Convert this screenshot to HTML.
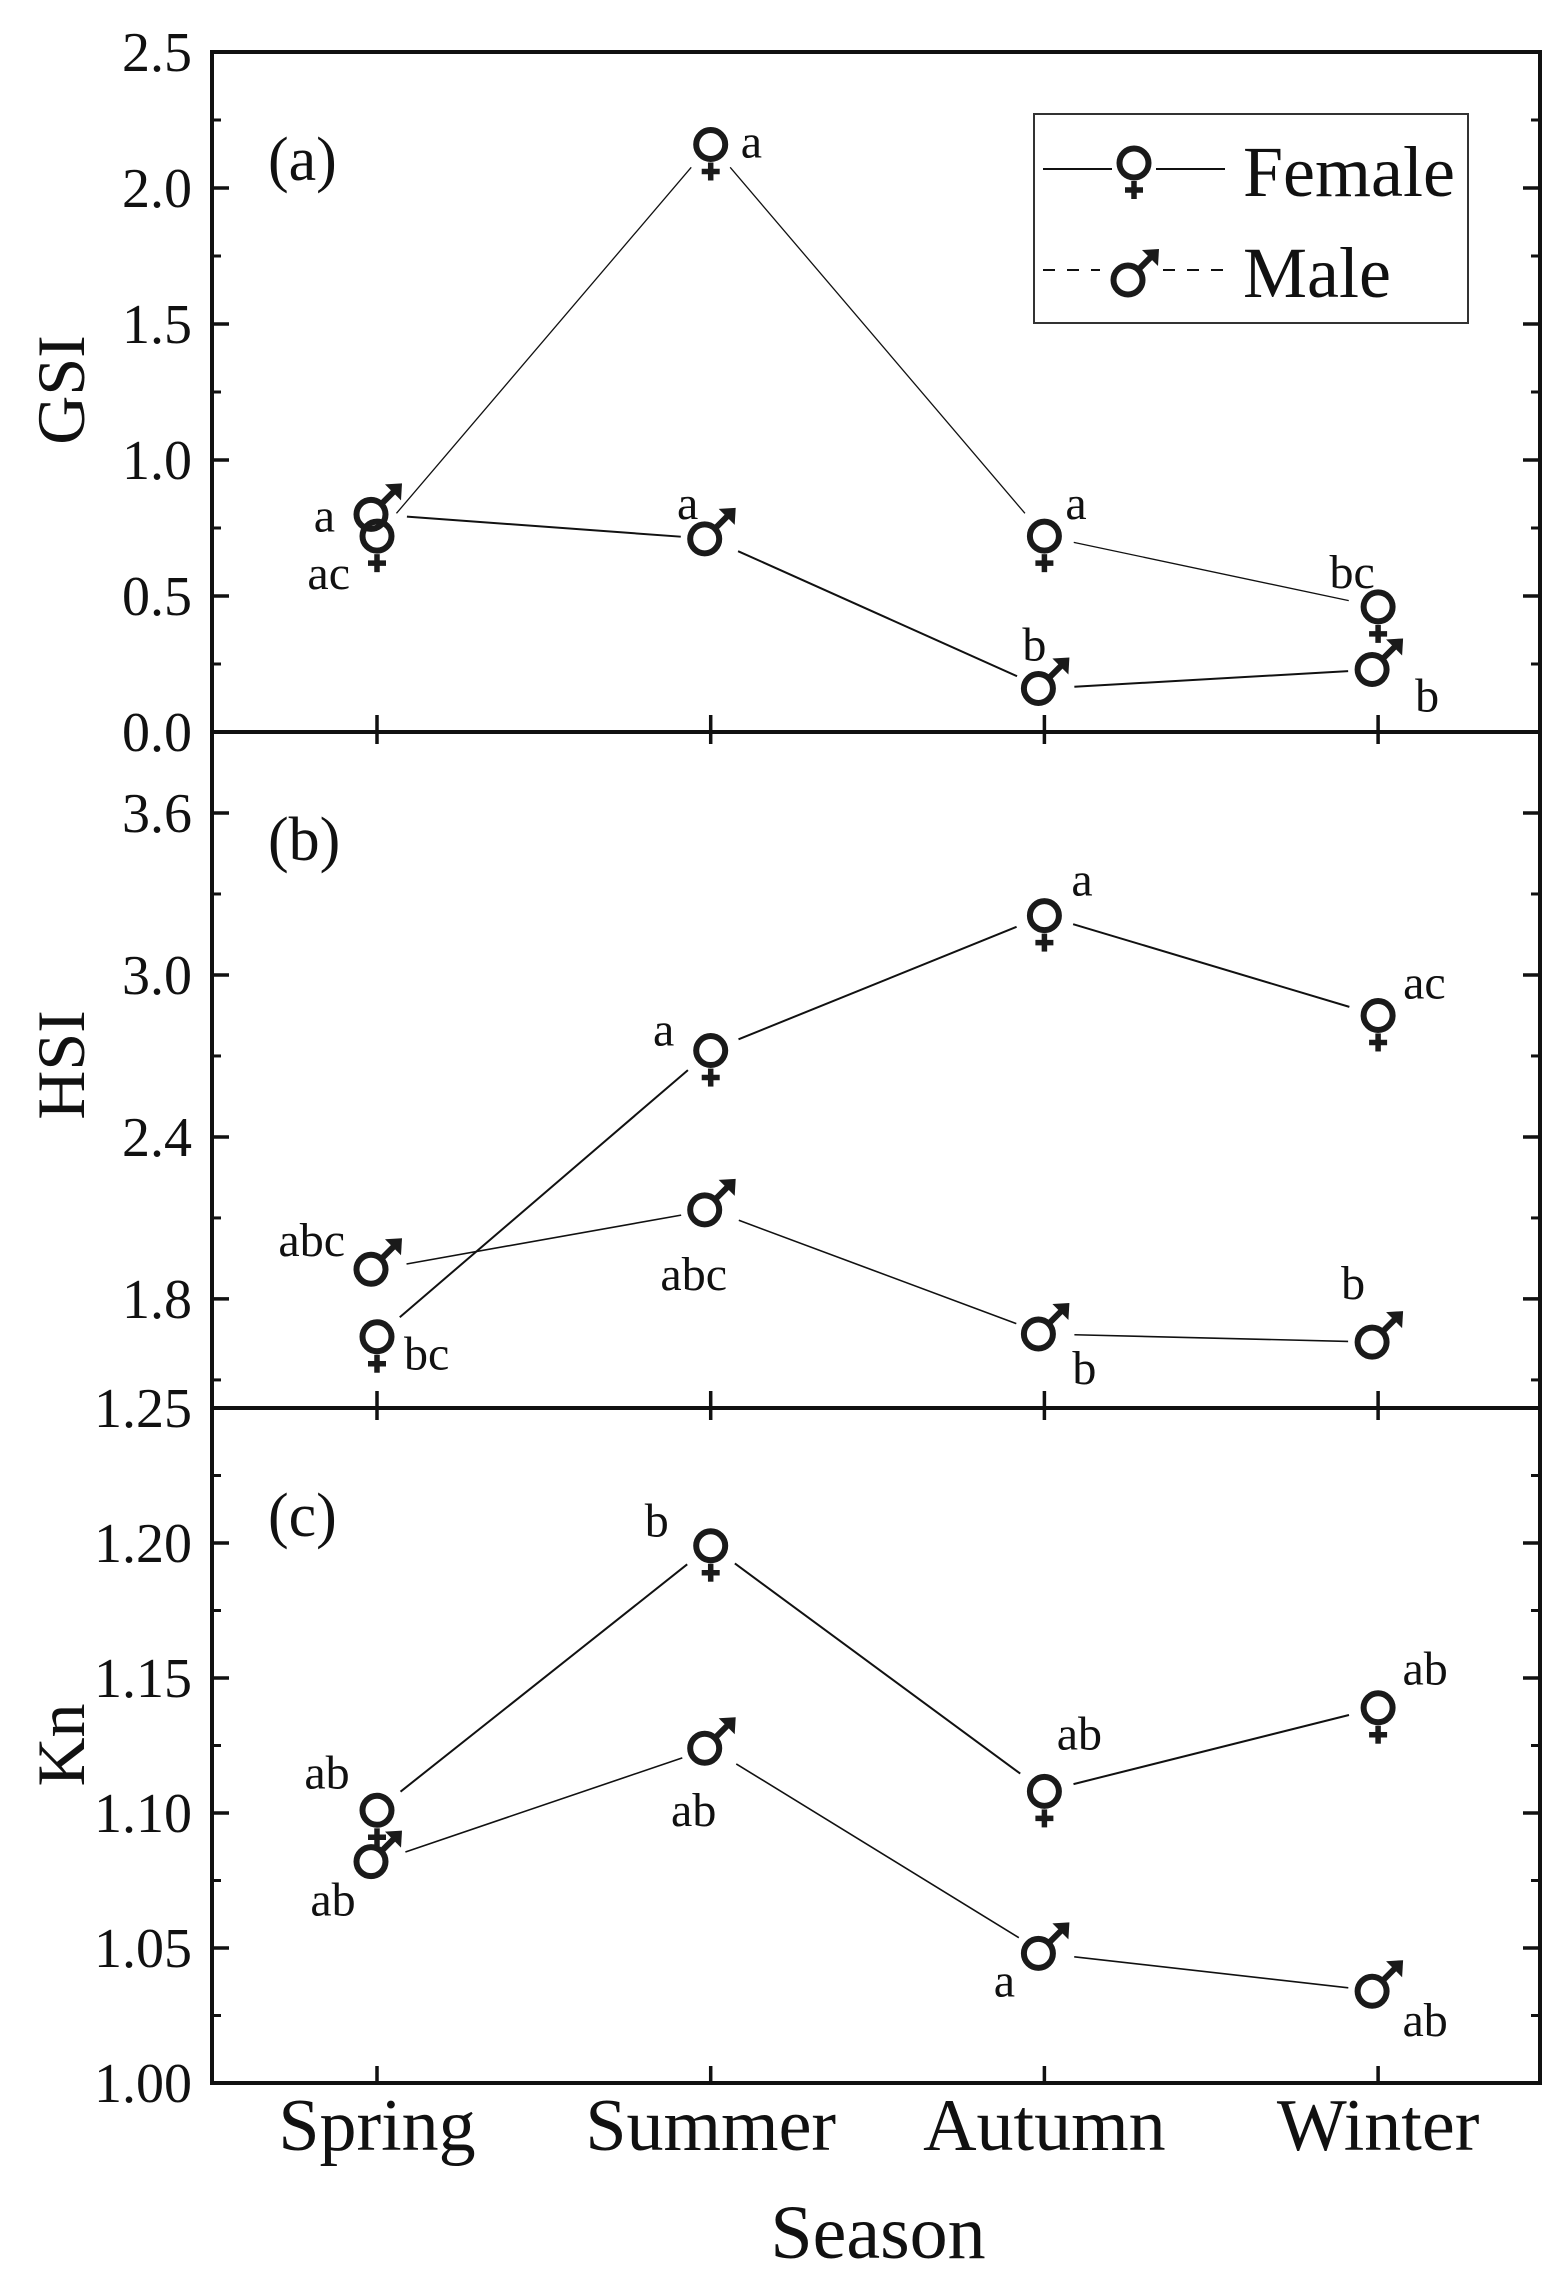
<!DOCTYPE html>
<html><head><meta charset="utf-8"><style>
body{margin:0;background:#fff}
svg text{font-family:"Liberation Serif",serif;fill:#111}
</style></head><body>
<svg id="chart" width="1563" height="2290" viewBox="0 0 1563 2290" xmlns="http://www.w3.org/2000/svg">
<g id="root"></g>
</svg>
<script>
const seasons = ["Spring","Summer","Autumn","Winter"];
const gsiFemale = [0.72, 2.16, 0.72, 0.46];
const gsiMale = [0.80, 0.71, 0.16, 0.23];
const hsiFemale = [1.66, 2.72, 3.22, 2.85];
const hsiMale = [1.91, 2.13, 1.67, 1.64];
const knFemale = [1.101, 1.199, 1.108, 1.139];
const knMale = [1.082, 1.124, 1.048, 1.034];
const gsiFemaleLetters = ["ac","a","a","bc"];
const gsiMaleLetters = ["a","a","b","b"];
const hsiFemaleLetters = ["bc","a","a","ac"];
const hsiMaleLetters = ["abc","abc","b","b"];
const knFemaleLetters = ["ab","b","ab","ab"];
const knMaleLetters = ["ab","ab","a","ab"];
const gsiTicks = ["0.0","0.5","1.0","1.5","2.0","2.5"];
const hsiTicks = ["1.8","2.4","3.0","3.6"];
const knTicks = ["1.00","1.05","1.10","1.15","1.20","1.25"];

const NS="http://www.w3.org/2000/svg";
const root=document.getElementById('root');
function mk(tag,attrs,parent){const e=document.createElementNS(NS,tag);for(const k in attrs)e.setAttribute(k,attrs[k]);(parent||root).appendChild(e);return e;}
const L=212,R=1540;
function xScale(i){return 377+i*333.7;}

const panels=[
 {name:'gsi',top:52,bot:732,min:0,max:2.5,ticks:gsiTicks,minor:0.25,f:gsiFemale,m:gsiMale,fl:gsiFemaleLetters,ml:gsiMaleLetters,title:'GSI',ty:390,tag:'(a)',lw:[1.3,2],
  fo:[[-27,53,'end'],[30,13,'start'],[21,-17,'start'],[-26,-19,'middle']],
  mo:[[-42,17,'end'],[-23,-20,'middle'],[-10,-28,'middle'],[37,42,'start']]},
 {name:'hsi',top:732,bot:1408,min:1.396,max:3.9,ticks:hsiTicks,minor:0.3,minorStart:1.5,f:hsiFemale,m:hsiMale,fl:hsiFemaleLetters,ml:hsiMaleLetters,title:'HSI',ty:1065,tag:'(b)',lw:[2,1.6],
  fo:[[27,33,'start'],[-47,-5,'middle'],[27,-20,'start'],[25,-17,'start']],
  mo:[[-32,-13,'end'],[-17,80,'middle'],[40,50,'middle'],[-25,-43,'middle']]},
 {name:'kn',top:1408,bot:2083,min:1.0,max:1.25,ticks:knTicks,minor:0.025,f:knFemale,m:knMale,fl:knFemaleLetters,ml:knMaleLetters,title:'Kn',ty:1745,tag:'(c)',lw:[2,1.6],
  fo:[[-50,-22,'middle'],[-54,-9,'middle'],[35,-42,'middle'],[47,-23,'middle']],
  mo:[[-44,54,'middle'],[-17,78,'middle'],[-40,43,'middle'],[47,45,'middle']]}
];

function female(g,x,y){
  mk('circle',{cx:x,cy:y,r:14.5,fill:'none',stroke:'#1a1a1a','stroke-width':6},g);
  mk('line',{x1:x,y1:y+18,x2:x,y2:y+36,stroke:'#1a1a1a','stroke-width':5.5},g);
  mk('line',{x1:x-9,y1:y+27,x2:x+9,y2:y+27,stroke:'#1a1a1a','stroke-width':5.5},g);
}
function male(g,x,y){
  const cx=x-6;
  mk('circle',{cx:cx,cy:y,r:14.5,fill:'none',stroke:'#1a1a1a','stroke-width':6},g);
  mk('line',{x1:cx+9,y1:y-9,x2:cx+24,y2:y-24,stroke:'#1a1a1a','stroke-width':6},g);
  mk('polygon',{points:`${cx+31},${y-31} ${cx+14},${y-30} ${cx+30},${y-14}`,fill:'#1a1a1a'},g);
}
function seg(g,xs,ys,w,name){
  for(let i=0;i<xs.length-1;i++){
    const dx=xs[i+1]-xs[i],dy=ys[i+1]-ys[i],d=Math.hypot(dx,dy),g1=30/d;
    const l=mk('line',{x1:xs[i]+dx*g1,y1:ys[i]+dy*g1,x2:xs[i+1]-dx*g1,y2:ys[i+1]-dy*g1,stroke:'#111','stroke-width':w},g);
    
    
  }
}

panels.forEach((p,pi)=>{
  const g=mk('g',{});
  
  
  const y=v=>p.bot-(v-p.min)/(p.max-p.min)*(p.bot-p.top);
  const ms=p.minorStart!==undefined?p.minorStart:p.min;
  for(let v=ms;v<p.max-1e-6;v+=p.minor){
    if(v<=p.min+1e-6) continue;
    const yy=y(v);
    mk('line',{x1:L,y1:yy,x2:L+9,y2:yy,stroke:'#111','stroke-width':3},g);
    mk('line',{x1:R,y1:yy,x2:R-9,y2:yy,stroke:'#111','stroke-width':3},g);
  }
  p.ticks.forEach(t=>{
    const v=parseFloat(t),yy=y(v);
    if(v>p.min+1e-6&&v<p.max-1e-6){
      mk('line',{x1:L,y1:yy,x2:L+17,y2:yy,stroke:'#111','stroke-width':3.5},g);
      mk('line',{x1:R,y1:yy,x2:R-17,y2:yy,stroke:'#111','stroke-width':3.5},g);
    }
    const tx=mk('text',{x:192,y:yy+19,'font-size':56,'text-anchor':'end'},g);
    tx.textContent=t;
    
    
  });
  seasons.forEach((s,i)=>{
    mk('line',{x1:xScale(i),y1:p.bot,x2:xScale(i),y2:p.bot-17,stroke:'#111','stroke-width':3.5},g);
    if(pi>0) mk('line',{x1:xScale(i),y1:p.top,x2:xScale(i),y2:p.top+12,stroke:'#111','stroke-width':3.5},g);
  });
  const fr=mk('rect',{x:L,y:p.top,width:R-L,height:p.bot-p.top,fill:'none',stroke:'#111','stroke-width':4},g);
  
  
  const ti=mk('text',{x:0,y:0,'font-size':68,'text-anchor':'middle',transform:`translate(84,${p.ty}) rotate(-90)`},g);
  ti.textContent=p.title;
  
  
  const tg=mk('text',{x:268,y:p.top+128,'font-size':62},g);
  tg.textContent=p.tag;
  
  
  const xs=seasons.map((s,i)=>xScale(i));
  seg(g,xs,p.f.map(y),p.lw[0],p.name+'-female');
  seg(g,xs,p.m.map(y),p.lw[1],p.name+'-male');
  p.m.forEach((v,i)=>{
    const mg=mk('g',{},g);
    
    
    male(mg,xs[i],y(v));
    const o=p.mo[i];
    const t=mk('text',{x:xs[i]+o[0],y:y(v)+o[1],'font-size':48,'text-anchor':o[2]},g);
    t.textContent=p.ml[i];
    
    
  });
  p.f.forEach((v,i)=>{
    const fg=mk('g',{},g);
    
    
    female(fg,xs[i],y(v));
    const o=p.fo[i];
    const t=mk('text',{x:xs[i]+o[0],y:y(v)+o[1],'font-size':48,'text-anchor':o[2]},g);
    t.textContent=p.fl[i];
    
    
  });
});
seasons.forEach((s,i)=>{
  const t=mk('text',{x:xScale(i),y:2150,'font-size':74,'text-anchor':'middle'});
  t.textContent=s;
  
  
});
const xt=mk('text',{x:878,y:2258,'font-size':76,'text-anchor':'middle'});
xt.textContent='Season';


const lg=mk('g',{});


mk('rect',{x:1034,y:114,width:434,height:209,fill:'#fff',stroke:'#333','stroke-width':2},lg);
mk('line',{x1:1043,y1:169,x2:1112,y2:169,stroke:'#111','stroke-width':2},lg);
mk('line',{x1:1156,y1:169,x2:1225,y2:169,stroke:'#111','stroke-width':2},lg);
const lf=mk('g',{},lg);


female(lf,1134,163);
mk('line',{x1:1043,y1:270,x2:1225,y2:270,stroke:'#111','stroke-width':2,'stroke-dasharray':'12 12'},lg);
mk('rect',{x:1100,y:230,width:60,height:70,fill:'#fff'},lg);
const lm=mk('g',{},lg);


male(lm,1134,280);
const t1=mk('text',{x:1243,y:196,'font-size':72},lg);t1.textContent='Female';


const t2=mk('text',{x:1243,y:297,'font-size':72},lg);t2.textContent='Male';


</script>
</body></html>
